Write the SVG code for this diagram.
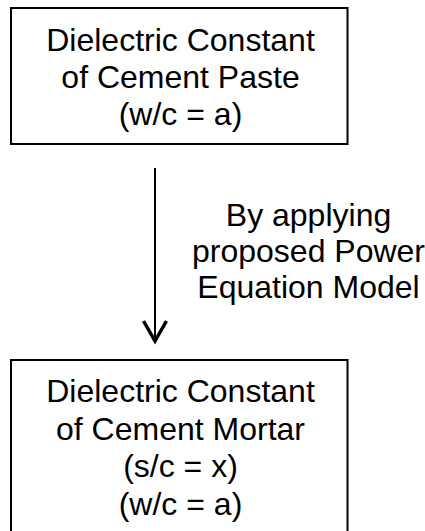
<svg xmlns="http://www.w3.org/2000/svg" width="425" height="531" viewBox="0 0 425 531">
<style>
.box{fill:#fff;stroke:#000;stroke-width:2}
.t{font-family:"Liberation Sans",Arial,sans-serif;font-size:32px;fill:#000;text-anchor:middle}
.c{fill:none;stroke:#000;stroke-width:2}
.h{fill:none;stroke:#000;stroke-width:3.5;stroke-linejoin:miter}
</style>
<rect width="425" height="531" fill="#fff"/>
<g id="paste">
<rect class="box" x="11" y="8" width="336.5" height="136"/>
<text class="t" x="180.5" y="51">Dielectric Constant</text>
<text class="t" x="180.5" y="88">of Cement Paste</text>
<text class="t" x="180.5" y="125">(w/c = a)</text>
</g>
<g id="connectors">
<line class="c" x1="155" y1="168" x2="155" y2="340"/>
<polyline class="h" points="143.5,321 155,341 166.5,321"/>
<g id="label">
<text class="t" x="308.5" y="226">By applying</text>
<text class="t" x="308.5" y="262">proposed Power</text>
<text class="t" x="308.5" y="298">Equation Model</text>
</g>
</g>
<g id="mortar">
<rect class="box" x="11" y="360" width="336.5" height="180"/>
<text class="t" x="180.5" y="402">Dielectric Constant</text>
<text class="t" x="180.5" y="439.5">of Cement Mortar</text>
<text class="t" x="180.5" y="477">(s/c = x)</text>
<text class="t" x="180.5" y="514.5">(w/c = a)</text>
</g>
</svg>
